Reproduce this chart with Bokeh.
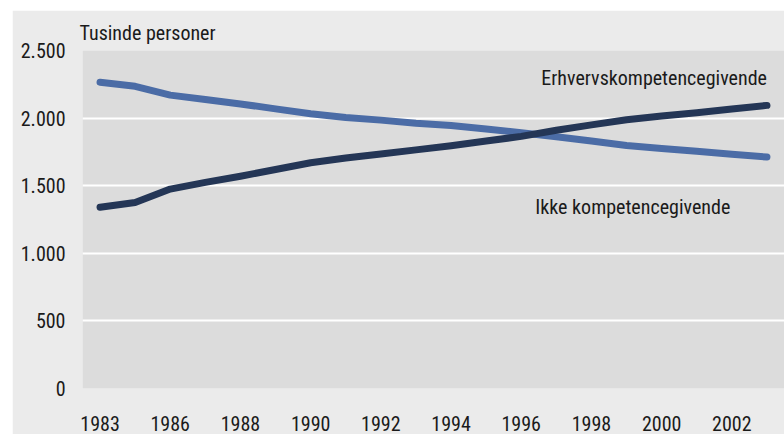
from bokeh.plotting import figure
from bokeh.models import Range1d, FixedTicker, Label
from bokeh.embed import file_html
from bokeh.resources import INLINE

# ---- data ----
years = ["1983", "1985", "1986", "1987", "1988", "1989", "1990", "1991", "1992", "1993",
         "1994", "1995", "1996", "1997", "1998", "1999", "2000", "2001", "2002", "2003"]
erhvervskompetencegivende = [1340, 1376, 1475, 1525, 1570, 1620, 1670, 1705, 1735, 1765,
                             1795, 1830, 1865, 1910, 1950, 1988, 2015, 2040, 2068, 2094]
ikke_kompetencegivende = [2265, 2235, 2170, 2138, 2105, 2068, 2032, 2005, 1985, 1962,
                          1945, 1920, 1892, 1862, 1830, 1797, 1775, 1755, 1732, 1712]
y_ticks = [0, 500, 1000, 1500, 2000, 2500]
y_tick_labels = ["0", "500", "1.000", "1.500", "2.000", "2.500"]
x_tick_years = ["1983", "1986", "1988", "1990", "1992", "1994", "1996", "1998", "2000", "2002"]
series_labels = ["Erhvervskompetencegivende", "Ikke kompetencegivende"]
y_title = "Tusinde personer"

FONT = "Roboto Condensed"
TXT = "#1a1a1a"
FS = "20px"

idx = list(range(len(years)))

p = figure(width=772, height=424, output_backend="svg", toolbar_location=None,
           x_range=Range1d(-0.5, len(years) - 0.5), y_range=Range1d(0, 2500),
           min_border_left=70, min_border_right=0, min_border_top=40, min_border_bottom=46)
p.margin = (10, 0, 0, 12)
p.background_fill_color = "#dcdcdc"
p.border_fill_color = "#ebebeb"
p.outline_line_color = None

p.title.text = y_title
p.title.align = "left"
p.title.offset = -3
p.title.text_font = FONT
p.title.text_font_size = FS
p.title.text_font_style = "normal"
p.title.text_color = TXT
p.title.standoff = 12

# axes
p.xaxis.ticker = FixedTicker(ticks=[years.index(y) for y in x_tick_years])
p.xaxis.major_label_overrides = {years.index(y): y for y in x_tick_years}
p.yaxis.ticker = FixedTicker(ticks=y_ticks)
p.yaxis.major_label_overrides = {t: l for t, l in zip(y_ticks, y_tick_labels)}
for ax in (p.xaxis[0], p.yaxis[0]):
    ax.axis_line_color = None
    ax.major_tick_line_color = None
    ax.minor_tick_line_color = None
    ax.major_tick_out = 0
    ax.major_tick_in = 0
    ax.major_label_text_font = FONT
    ax.major_label_text_font_size = FS
    ax.major_label_text_color = TXT
p.yaxis.major_label_standoff = 17
p.xaxis.major_label_standoff = 27

p.xgrid.grid_line_color = None
p.ygrid.grid_line_color = "white"
p.ygrid.grid_line_width = 2

p.line(idx, ikke_kompetencegivende, line_width=7, line_color="#4b6ca6",
       line_cap="round", line_join="round")
p.line(idx, erhvervskompetencegivende, line_width=7, line_color="#243656",
       line_cap="round", line_join="round")

p.add_layout(Label(x=len(years) - 1, y=2300, text=series_labels[0], text_align="right",
                   text_baseline="middle", text_font=FONT, text_font_size=FS, text_color=TXT))
p.add_layout(Label(x=12.4, y=1340, text=series_labels[1], text_align="left",
                   text_baseline="middle", text_font=FONT, text_font_size=FS, text_color=TXT))

open("out.html", "w").write(file_html(p, INLINE))
